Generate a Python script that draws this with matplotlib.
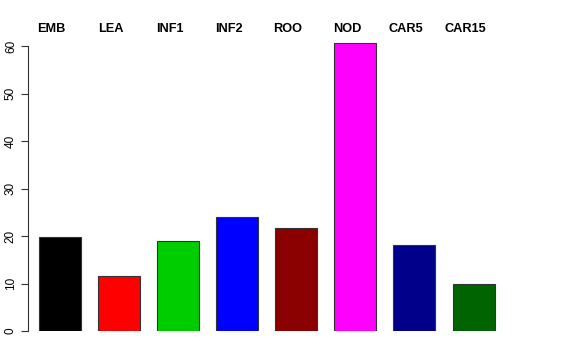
import matplotlib
matplotlib.use("Agg")
import matplotlib.pyplot as plt
import numpy as np

# tissue labels and values
tissues = ["EMB", "LEA", "INF1", "INF2", "ROO", "NOD", "CAR5", "CAR15"]
values = [19.7, 11.6, 18.9, 23.9, 21.6, 60.6, 18.1, 9.9]
colors = ["#000000", "#FF0000", "#00CD00", "#0000FF",
          "#8B0000", "#FF00FF", "#00008B", "#006400"]
yticks = [0, 10, 20, 30, 40, 50, 60]

plt.rcParams['font.family'] = ['Liberation Sans', 'DejaVu Sans']

fig = plt.figure(figsize=(5.76, 3.6), dpi=100)
# axes placed to match the R barplot region
ax = fig.add_axes([28 / 576, 29 / 360, 532 / 576, 294.5 / 360])

x = np.arange(len(tissues))
ax.bar(x, values, width=0.71, color=colors, edgecolor="#333333", linewidth=0.8)

ax.set_xlim(-0.533, 8.46)
ax.set_ylim(0, 62)

for side in ["top", "right", "bottom"]:
    ax.spines[side].set_visible(False)
ax.spines["left"].set_bounds(0, 60)
ax.spines["left"].set_color("#333333")
ax.set_xticks([])
ax.set_yticks(yticks)
ax.tick_params(axis="y", length=5, pad=3, labelsize=8.5, color="#333333")
for lab in ax.get_yticklabels():
    lab.set_rotation(90)
    lab.set_va("center")

# tissue names printed above the plot, slightly left of each bar
for xi, name in zip(x, tissues):
    ax.text(xi - 0.14, 63.6, name, ha="center", va="center",
            fontsize=9.2, fontweight="bold", clip_on=False)

fig.savefig("out.png", dpi=100)
